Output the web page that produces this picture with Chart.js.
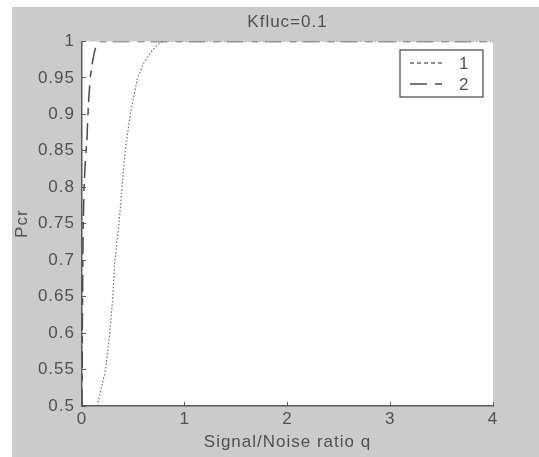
<!DOCTYPE html>
<html>
<head>
<meta charset="utf-8">
<script src="https://cdn.jsdelivr.net/npm/chart.js@4.4.1/dist/chart.umd.min.js"></script>
<style>
  html, body { margin: 0; padding: 0; background: #fff; }
  #wrap { width: 539px; height: 457px; }
</style>
</head>
<body>
<div id="wrap"><canvas id="chartPcr" width="539" height="457"></canvas></div>
<script>
// curve 1 (dotted) and curve 2 (dash-dot)
const q1 = [0.15, 0.18, 0.23, 0.27, 0.30, 0.32, 0.36, 0.39, 0.42, 0.47, 0.54, 0.60, 0.67, 0.73, 0.79, 1, 2, 3, 4];
const p1 = [0.50, 0.52, 0.55, 0.60, 0.65, 0.70, 0.75, 0.80, 0.85, 0.90, 0.95, 0.97, 0.985, 0.995, 1, 1, 1, 1, 1];
const q2 = [0, 0.003, 0.007, 0.012, 0.02, 0.03, 0.04, 0.05, 0.055, 0.065, 0.08, 0.10, 0.12, 0.14, 0.16, 0.5, 1, 2, 3, 4];
const p2 = [0.50, 0.60, 0.68, 0.75, 0.80, 0.83, 0.85, 0.87, 0.89, 0.92, 0.95, 0.97, 0.985, 0.995, 1, 1, 1, 1, 1, 1];
const legendLabels = ["1", "2"];
const titleText = "Kfluc=0.1";
const xTitle = "Signal/Noise ratio q";
const yTitle = "Pcr";

const FONT = "'Liberation Sans', Arial, sans-serif";
const TXT = "#505050";
const AX = "#5a5a5a";

const toPts = (xs, ys) => xs.map((x, i) => ({ x: x, y: ys[i] }));

// grey figure background + white axes area, loose letter spacing like the print
const background = {
    id: "background",
    beforeDraw(chart) {
        const c = chart.ctx, a = chart.chartArea;
        c.letterSpacing = "1px";
        c.save();
        c.fillStyle = "#cbcbcb";
        c.fillRect(12, 7, chart.width - 12, chart.height - 7);
        c.fillStyle = "#fff";
        c.fillRect(a.left, a.top, a.right - a.left, a.bottom - a.top);
        c.restore();
    }
};

// matlab-like legend box inside the axes, top right
const boxLegend = {
    id: "boxLegend",
    afterDraw(chart) {
        const c = chart.ctx;
        const x = 400, y = 50, w = 83, h = 47;
        c.save();
        c.fillStyle = "#fff";
        c.fillRect(x, y, w, h);
        c.strokeStyle = "#444";
        c.lineWidth = 1.2;
        c.strokeRect(x, y, w, h);
        c.font = "17px " + FONT;
        c.fillStyle = TXT;
        c.textBaseline = "middle";
        const dashes = [[4, 3], [17, 8, 7, 6]];
        chart.data.datasets.forEach((ds, i) => {
            const ly = y + 13 + i * 21;
            c.strokeStyle = ds.borderColor;
            c.lineWidth = 1.3;
            c.setLineDash(dashes[i]);
            c.beginPath();
            c.moveTo(x + 10, ly);
            c.lineTo(x + 45, ly);
            c.stroke();
            c.setLineDash([]);
            c.fillText(legendLabels[i], x + 59, ly + 1);
        });
        c.restore();
    }
};

window.onload = () => {
    new Chart(document.getElementById("chartPcr"), {
        type: "scatter",
        data: {
            datasets: [
                { label: legendLabels[0], data: toPts(q1, p1), showLine: true, pointRadius: 0,
                  borderColor: "#6a6a6a", borderWidth: 1.2, borderDash: [1.5, 2], tension: 0 },
                { label: legendLabels[1], data: toPts(q2, p2), showLine: true, pointRadius: 0,
                  borderColor: "#4a4a4a", borderWidth: 1.5, borderDash: [17, 8, 7, 6], tension: 0 }
            ]
        },
        options: {
            responsive: false,
            animation: false,
            layout: { padding: { left: 12, top: 7, right: 46, bottom: 0 } },
            plugins: {
                legend: { display: false },
                tooltip: { enabled: false },
                title: {
                    display: true, fullSize: false, text: titleText, color: TXT,
                    font: { family: FONT, size: 17, weight: "normal" },
                    padding: { top: 5, bottom: 9 }
                }
            },
            scales: {
                x: {
                    type: "linear", min: 0, max: 4,
                    ticks: { stepSize: 1, color: TXT, font: { family: FONT, size: 17 }, padding: 7, maxRotation: 0 },
                    grid: { drawOnChartArea: false, tickLength: -4, color: AX },
                    border: { color: AX, width: 1.5 },
                    title: { display: true, text: xTitle, color: TXT, font: { family: FONT, size: 17 }, padding: { top: -3 } },
                    afterFit: s => { s.height = 51; }
                },
                y: {
                    min: 0.5, max: 1,
                    ticks: {
                        stepSize: 0.05, color: TXT, font: { family: FONT, size: 17 }, padding: 11,
                        callback: v => String(Math.round(v * 100) / 100)
                    },
                    grid: { drawOnChartArea: false, tickLength: -4, color: AX },
                    border: { color: AX, width: 1.5 },
                    title: { display: true, text: yTitle, color: TXT, font: { family: FONT, size: 17 }, padding: 0 },
                    afterFit: s => { s.width = 70; }
                }
            }
        },
        plugins: [background, boxLegend]
    });
};
</script>
</body>
</html>
